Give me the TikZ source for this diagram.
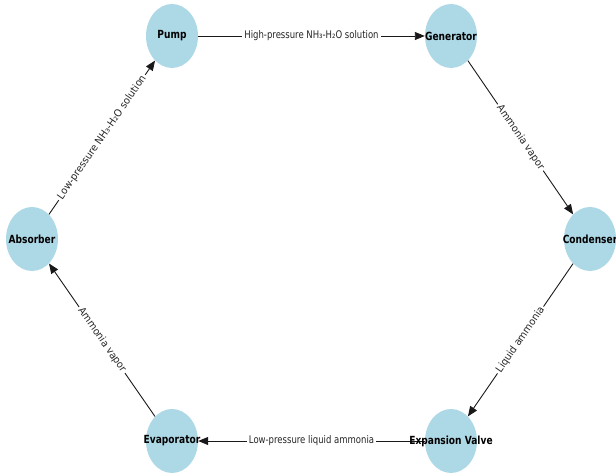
\documentclass[tikz,border=0pt]{standalone}
\usepackage{fontspec}
\setmainfont{DejaVu Sans}[FakeStretch=0.81]
\newfontfamily\slopedfont{DejaVu Sans}[FakeStretch=0.94]
\usetikzlibrary{shapes.geometric,arrows.meta}
\definecolor{lightblue}{RGB}{173,216,230}
\begin{document}
\begin{tikzpicture}[x=1pt,y=1pt,
  proc/.style={ellipse, fill=lightblue, minimum width=52pt, minimum height=64pt, inner sep=0pt},
  lbl/.style={font=\fontsize{11.2}{13}\selectfont\bfseries, text=black, inner sep=0pt},
  flow/.style={draw=black!90, line width=0.9pt, -{Triangle[length=10pt,width=8pt]}},
  elbl/.style={font=\fontsize{10.5}{12}\selectfont, fill=white, inner sep=2pt, text=black!85},
  slbl/.style={elbl, sloped, font=\fontsize{10.2}{12}\slopedfont}]
\useasboundingbox (0,0) rectangle (616,473);
\clip (0,0) rectangle (616,473);
\node[proc] (pump) at (172,437) {};
\node[proc] (gen)  at (451,437) {};
\node[proc] (cond) at (590,234) {};
\node[proc] (exp)  at (451,32) {};
\node[proc] (evap) at (172,32) {};
\node[proc] (abs)  at (32,234) {};
\draw[flow] (pump) -- node[elbl]{High-pressure NH₃-H₂O solution} (gen);
\draw[flow] (gen) -- node[slbl]{Ammonia vapor} (cond);
\draw[flow] (cond) -- node[slbl]{Liquid ammonia} (exp);
\draw[flow] (exp) -- node[elbl]{Low-pressure liquid ammonia} (evap);
\draw[flow] (evap) -- node[slbl]{Ammonia vapor} (abs);
\draw[flow] (abs) -- node[slbl]{Low-pressure NH₃-H₂O solution} (pump);
\node[lbl] (pumpT) at (pump.center) {Pump};
\node[lbl] (genT)  at (gen.center) {Generator};
\node[lbl] (condT) at (cond.center) {Condenser};
\node[lbl] (expT)  at (exp.center) {Expansion Valve};
\node[lbl] (evapT) at (evap.center) {Evaporator};
\node[lbl] (absT)  at (abs.center) {Absorber};
\end{tikzpicture}
\end{document}
